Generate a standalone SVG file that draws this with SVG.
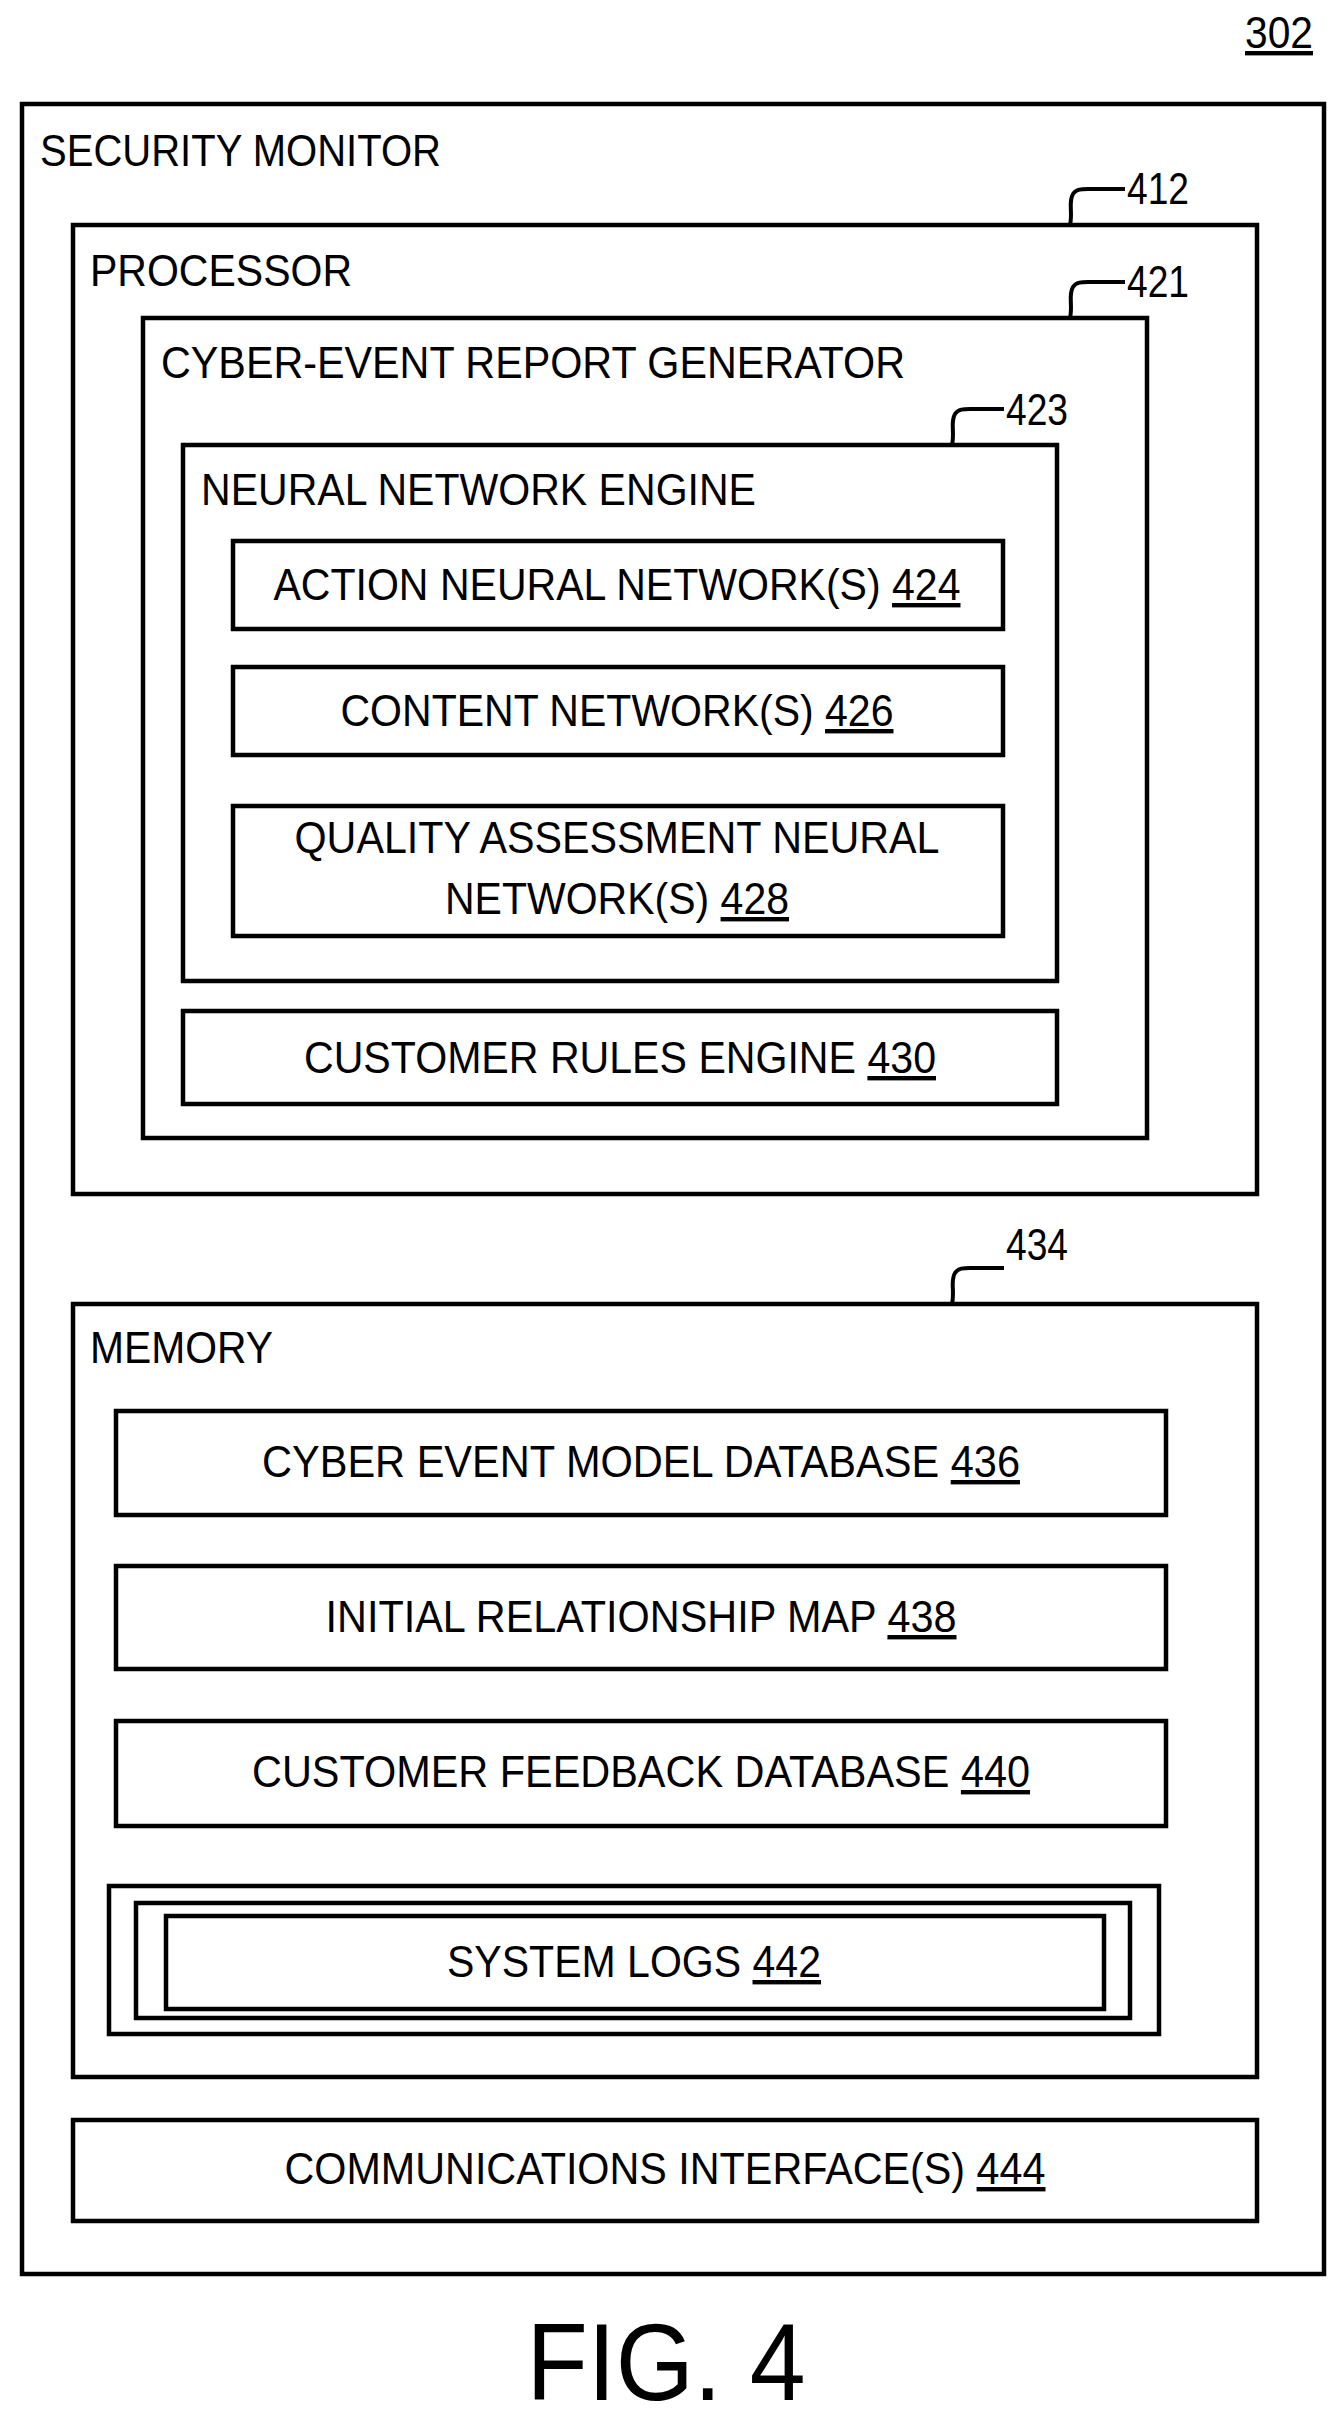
<svg xmlns="http://www.w3.org/2000/svg" width="1340" height="2423" viewBox="0 0 1340 2423">
<style>
rect{fill:none;stroke:#000;stroke-width:4.5}
text{font-family:"Liberation Sans",Arial,sans-serif;font-size:44px;fill:#000}
.c{text-anchor:middle}
.u{text-decoration:underline}
path{fill:none;stroke:#000;stroke-width:4}
</style>
<rect x="0" y="0" width="1340" height="2423" style="fill:#fff;stroke:none"/>
<text id="ref302" x="1245" y="48" class="u" textLength="68" lengthAdjust="spacingAndGlyphs">302</text>
<g id="security-monitor"><rect x="22" y="104" width="1302" height="2170"/><text x="40" y="166" textLength="401" lengthAdjust="spacingAndGlyphs">SECURITY MONITOR</text></g>
<g id="processor"><rect x="73" y="225" width="1184" height="969"/><text x="90" y="286" textLength="262" lengthAdjust="spacingAndGlyphs">PROCESSOR</text><text x="1127" y="204" textLength="62" lengthAdjust="spacingAndGlyphs">412</text></g>
<g id="report-generator"><rect x="143" y="318" width="1004" height="820"/><text x="161" y="378" textLength="744" lengthAdjust="spacingAndGlyphs">CYBER-EVENT REPORT GENERATOR</text><text x="1127" y="297" textLength="62" lengthAdjust="spacingAndGlyphs">421</text></g>
<g id="nn-engine"><rect x="183" y="445" width="874" height="536"/><text x="201" y="505" textLength="555" lengthAdjust="spacingAndGlyphs">NEURAL NETWORK ENGINE</text><text x="1006" y="425" textLength="62" lengthAdjust="spacingAndGlyphs">423</text></g>
<g id="n424"><rect x="233" y="541" width="770" height="88"/><text x="617" y="600" class="c" textLength="687" lengthAdjust="spacingAndGlyphs">ACTION NEURAL NETWORK(S) <tspan class="u">424</tspan></text></g>
<g id="n426"><rect x="233" y="667" width="770" height="88"/><text x="617" y="726" class="c" textLength="553" lengthAdjust="spacingAndGlyphs">CONTENT NETWORK(S) <tspan class="u">426</tspan></text></g>
<g id="n428"><rect x="233" y="806" width="770" height="130"/><text x="617" y="853" class="c" textLength="645" lengthAdjust="spacingAndGlyphs">QUALITY ASSESSMENT NEURAL</text><text x="617" y="914" class="c" textLength="344" lengthAdjust="spacingAndGlyphs">NETWORK(S) <tspan class="u">428</tspan></text></g>
<g id="n430"><rect x="183" y="1011" width="874" height="93"/><text x="620" y="1073" class="c" textLength="632" lengthAdjust="spacingAndGlyphs">CUSTOMER RULES ENGINE <tspan class="u">430</tspan></text></g>
<g id="memory"><rect x="73" y="1304" width="1184" height="773"/><text x="90" y="1363" textLength="183" lengthAdjust="spacingAndGlyphs">MEMORY</text><text x="1006" y="1260" textLength="62" lengthAdjust="spacingAndGlyphs">434</text></g>
<g id="n436"><rect x="116" y="1411" width="1050" height="104"/><text x="641" y="1477" class="c" textLength="758" lengthAdjust="spacingAndGlyphs">CYBER EVENT MODEL DATABASE <tspan class="u">436</tspan></text></g>
<g id="n438"><rect x="116" y="1566" width="1050" height="103"/><text x="641" y="1632" class="c" textLength="631" lengthAdjust="spacingAndGlyphs">INITIAL RELATIONSHIP MAP <tspan class="u">438</tspan></text></g>
<g id="n440"><rect x="116" y="1721" width="1050" height="105"/><text x="641" y="1787" class="c" textLength="778" lengthAdjust="spacingAndGlyphs">CUSTOMER FEEDBACK DATABASE <tspan class="u">440</tspan></text></g>
<g id="n442"><rect x="109" y="1886" width="1050" height="148"/><rect x="136" y="1903" width="994" height="115"/><rect x="166" y="1916" width="938" height="93"/><text x="634" y="1977" class="c" textLength="374" lengthAdjust="spacingAndGlyphs">SYSTEM LOGS <tspan class="u">442</tspan></text></g>
<g id="n444"><rect x="73" y="2120" width="1184" height="101"/><text x="665" y="2184" class="c" textLength="761" lengthAdjust="spacingAndGlyphs">COMMUNICATIONS INTERFACE(S) <tspan class="u">444</tspan></text></g>
<g id="connectors">
<path d="M1070 225 C1073 212 1068 202 1073 194 C1076 189 1082 189 1088 189 L1125 189"/>
<path d="M1070 318 C1073 305 1068 295 1073 287 C1076 282 1082 282 1088 282 L1125 282"/>
<path d="M952 445 C955 432 950 422 955 414 C958 409 964 409 970 409 L1004 409"/>
<path d="M952 1304 C955 1291 950 1281 955 1273 C958 1268 964 1268 970 1268 L1004 1268"/>
</g>
<text id="fig" x="666" y="2400" class="c" style="font-size:110px" textLength="279" lengthAdjust="spacingAndGlyphs">FIG. 4</text>
</svg>
